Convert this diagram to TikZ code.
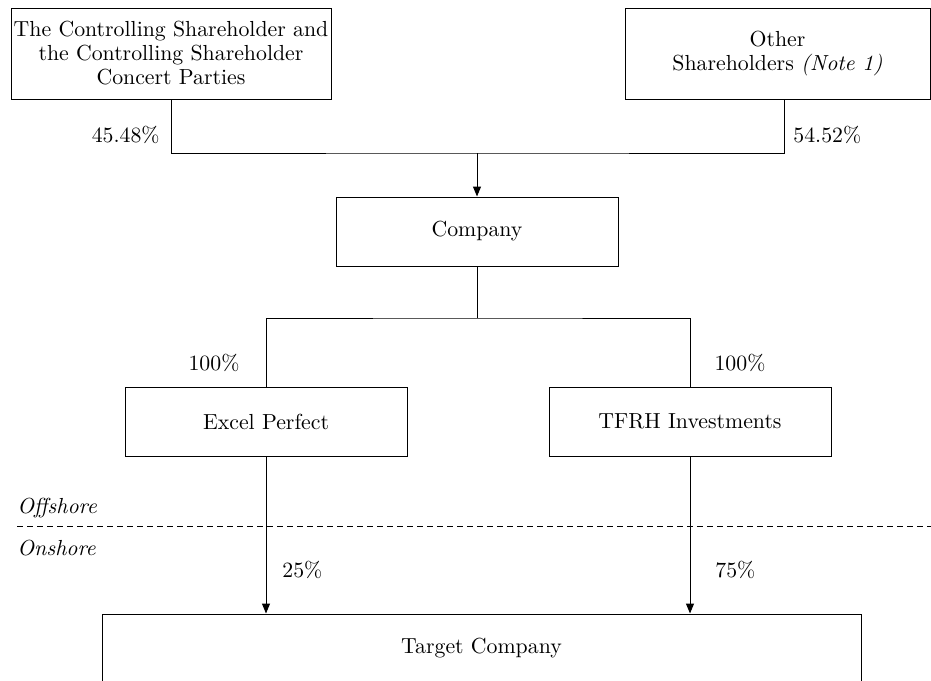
\documentclass[tikz,border=0pt]{standalone}
\usetikzlibrary{arrows.meta}
\begin{document}
\begin{tikzpicture}[x=0.5pt,y=-0.5pt,font=\fontsize{10.9}{12}\selectfont,
        box/.style={draw,line width=0.5pt,align=center,inner sep=0pt,minimum width=141pt,minimum height=34.5pt},
        pct/.style={inner sep=0pt},
        side/.style={inner sep=0pt,anchor=west,font=\fontsize{10.9}{12}\selectfont\itshape},
        link/.style={line width=0.5pt},
        arr/.style={line width=0.5pt,-{Triangle[width=4pt,length=5pt]}}]
    \useasboundingbox (0,0) rectangle (931,680);
    \node[box,minimum width=160pt,minimum height=45.5pt] (ctrl) at (171,53.5) {The Controlling Shareholder and\\the Controlling Shareholder\\Concert Parties};
    \node[box,minimum width=152.5pt,minimum height=45.5pt] (other) at (777.5,53.5) {Other\\Shareholders \textit{(Note 1)}};
    \node[box] (company) at (477,231.5) {Company};
    \node[box] (excel) at (266,421.5) {Excel Perfect};
    \node[box] (tfrh) at (690,421.5) {TFRH Investments};
    \node[box,minimum width=379.5pt] (target) at (481.5,648.5) {Target Company};
    \coordinate (topjoin) at (477,153);
    \coordinate (midjoin) at (477,318);
    \draw[link] (ctrl.south) |- (topjoin) -| ([xshift=3.25pt]other.south);
    \draw[arr] (topjoin) -- (company.north);
    \draw[link] (company.south) -- (midjoin);
    \draw[link] (excel.north) |- (midjoin) -| (tfrh.north);
    \draw[arr] (excel.south) -- (excel.south |- target.north);
    \draw[arr] (tfrh.south) -- (tfrh.south |- target.north);
    \draw[link,dash pattern=on 3pt off 2pt] (17,526) -- (931,526);
    \node[pct,anchor=east] (pctctrl) at (160,135) {45.48\%};
    \node[pct,anchor=west] (pctother) at (793,135) {54.52\%};
    \node[pct] (pctexcel) at (214,363) {100\%};
    \node[pct] (pcttfrh) at (740,363) {100\%};
    \node[pct,anchor=west] (pctexceltgt) at (282,570) {25\%};
    \node[pct,anchor=west] (pcttfrhtgt) at (715,570) {75\%};
    \node[side] (offshore) at (17,508) {Offshore};
    \node[side] (onshore) at (17,548) {Onshore};
\end{tikzpicture}
\end{document}
